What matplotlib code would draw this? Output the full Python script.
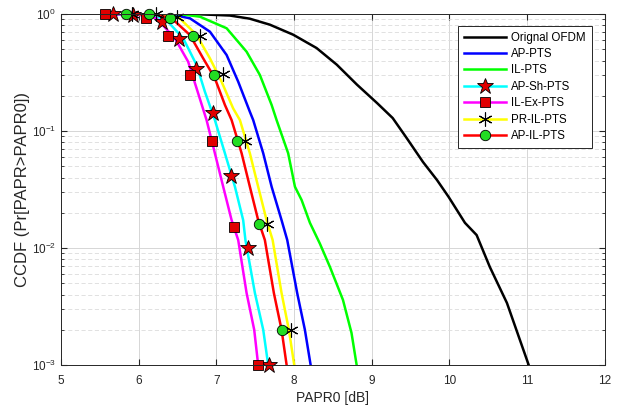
import numpy as np
import matplotlib.pyplot as plt
from matplotlib.lines import Line2D

plt.rcParams['font.family'] = ['Liberation Sans', 'DejaVu Sans']

# CCDF curves, PAPR0 in dB
ofdm_x = [5.6, 6.79, 7.175, 7.43, 7.69, 7.99, 8.29, 8.55, 8.81, 9.07, 9.27, 9.45,
          9.66, 9.84, 9.99, 10.20, 10.35, 10.52, 10.74, 11.02]
ofdm_y = [1.0, 0.994, 0.97, 0.912, 0.81, 0.665, 0.512, 0.369, 0.249, 0.173, 0.129,
          0.087, 0.0543, 0.0381, 0.0273, 0.0164, 0.0129, 0.00688, 0.00339, 0.001]

ap_x = [5.6, 6.40, 6.66, 6.918, 7.133, 7.282, 7.432, 7.475, 7.604, 7.712, 7.84,
        7.913, 8.041, 8.14, 8.214]
ap_y = [1.0, 0.995, 0.919, 0.706, 0.446, 0.264, 0.146, 0.124, 0.0645, 0.0334,
        0.0173, 0.0117, 0.00412, 0.0020, 0.001]

il_x = [5.6, 6.53, 6.79, 7.133, 7.39, 7.561, 7.712, 7.776, 7.925, 8.012, 8.098,
        8.205, 8.333, 8.462, 8.63, 8.74, 8.806]
il_y = [1.0, 0.998, 0.948, 0.755, 0.476, 0.301, 0.167, 0.124, 0.0645, 0.0334,
        0.0257, 0.0164, 0.0109, 0.0069, 0.0036, 0.00188, 0.001]

apsh_x = [5.656, 6.08, 6.338, 6.574, 6.746, 6.853, 6.982, 7.111, 7.24, 7.346,
          7.375, 7.497, 7.604, 7.668]
apsh_y = [1.0, 0.98, 0.919, 0.62, 0.367, 0.217, 0.124, 0.0645, 0.0334, 0.0173,
          0.0117, 0.00412, 0.0020, 0.001]

ilex_x = [5.57, 6.02, 6.23, 6.467, 6.638, 6.746, 6.875, 6.982, 7.089, 7.197,
          7.282, 7.39, 7.488, 7.539]
ilex_y = [1.0, 0.98, 0.919, 0.62, 0.391, 0.232, 0.124, 0.0645, 0.0334, 0.0173,
          0.0117, 0.00412, 0.0020, 0.001]

pril_x = [5.9, 6.34, 6.53, 6.746, 6.918, 7.068, 7.217, 7.304, 7.432, 7.539,
          7.647, 7.725, 7.84, 7.934, 8.003]
pril_y = [1.0, 0.99, 0.919, 0.662, 0.418, 0.264, 0.156, 0.124, 0.0645, 0.0334,
          0.0173, 0.0117, 0.00412, 0.0020, 0.001]

apil_x = [5.837, 6.21, 6.425, 6.66, 6.831, 6.982, 7.111, 7.197, 7.326, 7.432,
          7.539, 7.625, 7.741, 7.84, 7.905]
apil_y = [1.0, 0.99, 0.919, 0.662, 0.418, 0.282, 0.167, 0.124, 0.0645, 0.0334,
          0.0173, 0.0117, 0.00412, 0.0020, 0.001]

# marker points
apsh_mx = [5.665, 5.927, 6.296, 6.522, 6.737, 6.96, 7.188, 7.41, 7.68]
apsh_my = [1.0, 0.98, 0.859, 0.608, 0.337, 0.143, 0.0414, 0.010, 0.001]
ilex_mx = [5.566, 6.10, 6.373, 6.66, 6.947, 7.226, 7.54]
ilex_my = [1.0, 0.919, 0.649, 0.301, 0.0822, 0.0151, 0.001]
pril_mx = [5.91, 6.23, 6.497, 6.789, 7.081, 7.368, 7.655, 7.956]
pril_my = [1.0, 1.0, 0.948, 0.649, 0.307, 0.082, 0.0161, 0.002]
apil_mx = [5.837, 6.136, 6.403, 6.695, 6.969, 7.269, 7.552, 7.84]
apil_my = [1.0, 1.0, 0.919, 0.649, 0.301, 0.0822, 0.0161, 0.00201]

fig = plt.figure(figsize=(6.21, 4.09), dpi=100)
ax = fig.add_axes([0.098, 0.1076, 0.876, 0.8582])

lw = 1.8
ax.semilogy(ofdm_x, ofdm_y, color='k', lw=lw)
ax.semilogy(ap_x, ap_y, color='#0000ff', lw=lw)
ax.semilogy(il_x, il_y, color='#00ff00', lw=lw)
ax.semilogy(apsh_x, apsh_y, color='#00ffff', lw=lw)
ax.semilogy(ilex_x, ilex_y, color='#ff00ff', lw=lw)
ax.semilogy(pril_x, pril_y, color='#ffff00', lw=lw)
ax.semilogy(apil_x, apil_y, color='#ff0000', lw=lw)

star = dict(marker='*', ms=12, mfc='#e00000', mec='k', mew=0.6)
square = dict(marker='s', ms=7.5, mfc='#e00000', mec='k', mew=0.6)
aster = dict(marker=(6, 2, 0), ms=10, mec='k', mew=0.8)
circle = dict(marker='o', ms=7.5, mfc='#22dd22', mec='k', mew=0.6)

ax.plot(apsh_mx, apsh_my, ls='none', clip_on=False, **star)
ax.plot(ilex_mx, ilex_my, ls='none', clip_on=False, **square)
ax.plot(pril_mx, pril_my, ls='none', color='k', clip_on=False, **aster)
ax.plot(apil_mx, apil_my, ls='none', clip_on=False, **circle)

ax.set_xlim(5, 12)
ax.set_ylim(1e-3, 1)
ax.set_xticks(range(5, 13))
ax.tick_params(which='both', direction='in', top=True, right=True, labelsize=8.5,
               colors='#262626')
ax.tick_params(which='major', length=4)
ax.tick_params(which='minor', length=2)
ax.tick_params(axis='x', pad=7)
ax.grid(True, which='major', color='#d6d6d6', lw=0.7)
ax.grid(True, which='minor', axis='y', color='#dcdcdc', lw=0.6, ls=(0, (5, 3)))
for s in ax.spines.values():
    s.set_color('#262626')
    s.set_linewidth(0.7)

ax.set_xlabel('PAPR0 [dB]', fontsize=10, labelpad=3, color='#262626')
ax.set_ylabel('CCDF (Pr[PAPR>PAPR0])', fontsize=12, labelpad=1, color='#262626')

handles = [
    Line2D([], [], color='k', lw=lw),
    Line2D([], [], color='#0000ff', lw=lw),
    Line2D([], [], color='#00ff00', lw=lw),
    Line2D([], [], color='#00ffff', lw=lw, **star),
    Line2D([], [], color='#ff00ff', lw=lw, **square),
    Line2D([], [], color='#ffff00', lw=lw, **aster),
    Line2D([], [], color='#ff0000', lw=lw, **circle),
]
labels = ['Orignal OFDM', 'AP-PTS', 'IL-PTS', 'AP-Sh-PTS', 'IL-Ex-PTS',
          'PR-IL-PTS', 'AP-IL-PTS']
leg = ax.legend(handles, labels, loc='upper right', bbox_to_anchor=(0.976, 0.966),
                fontsize=8.3, handlelength=3.6, labelspacing=0.38, borderpad=0.5,
                handletextpad=0.5, borderaxespad=0, fancybox=False, framealpha=1)
leg.get_frame().set_edgecolor('#262626')
leg.get_frame().set_linewidth(0.7)

fig.savefig('out.png', dpi=100)
